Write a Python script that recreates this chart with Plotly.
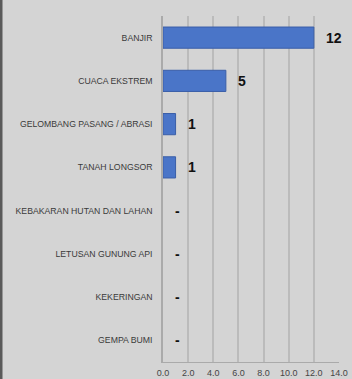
import plotly.graph_objects as go

categories = ["BANJIR", "CUACA EKSTREM", "GELOMBANG PASANG / ABRASI", "TANAH LONGSOR",
              "KEBAKARAN HUTAN DAN LAHAN", "LETUSAN GUNUNG API", "KEKERINGAN", "GEMPA BUMI"]
values = [12, 5, 1, 1, 0, 0, 0, 0]
labels = ["12", "5", "1", "1", "-", "-", "-", "-"]
x_ticks = [0, 2, 4, 6, 8, 10, 12, 14]

W, H = 352, 379
ML, MR, MT, MB = 163, 13, 16, 17
pw, ph = W - ML - MR, H - MT - MB

fig = go.Figure()
fig.add_trace(go.Bar(
    y=categories, x=values, orientation="h",
    marker=dict(color="#4a75c8",
                line=dict(color="#3a5ea8", width=[1 if v > 0 else 0 for v in values])),
    hoverinfo="skip",
))

for c, v, t in zip(categories, values, labels):
    fig.add_annotation(x=v, y=c, text=t, showarrow=False, xanchor="left", xshift=10,
                       font=dict(family="Liberation Sans, Arial, sans-serif", size=14,
                                 color="#111", weight="bold"))

# dark frame strip at left edge
fig.add_shape(type="rect", xref="paper", yref="paper",
              x0=-ML / pw - 0.01, x1=(-ML + 2.5) / pw, y0=-MB / ph - 0.01, y1=1 + MT / ph + 0.01,
              fillcolor="#5a5a5a", line=dict(width=0), layer="above")

fig.update_layout(
    template="none",
    width=W, height=H,
    margin=dict(l=ML, r=MR, t=MT, b=MB, autoexpand=False),
    paper_bgcolor="#d4d4d4", plot_bgcolor="#d4d4d4",
    bargap=0.51, showlegend=False,
    font=dict(family="Liberation Sans, Arial, sans-serif", color="#3a3a3a", size=9),
)

fig.update_xaxes(range=[0, 14], tickvals=x_ticks, tickformat=".1f", automargin=False,
                 showgrid=True, gridcolor="#bbbbbb", gridwidth=1.5,
                 showline=True, linecolor="#aaaaaa", linewidth=1,
                 zeroline=False, ticks="outside", ticklen=2, tickcolor="rgba(0,0,0,0)",
                 tickfont=dict(size=9, color="#444444"),
                 fixedrange=True)
fig.update_yaxes(categoryorder="array", categoryarray=categories, autorange="reversed",
                 automargin=False,
                 showgrid=False, showline=True, linecolor="#aaaaaa", linewidth=1.5,
                 ticks="outside", ticklen=7, tickcolor="rgba(0,0,0,0)",
                 tickfont=dict(size=8.7, color="#3a3a3a"), fixedrange=True)

fig.write_html("out.html", config=dict(displayModeBar=False),
               post_script="document.body.style.margin='0';document.body.style.background='#d4d4d4';document.body.style.overflow='hidden';")
